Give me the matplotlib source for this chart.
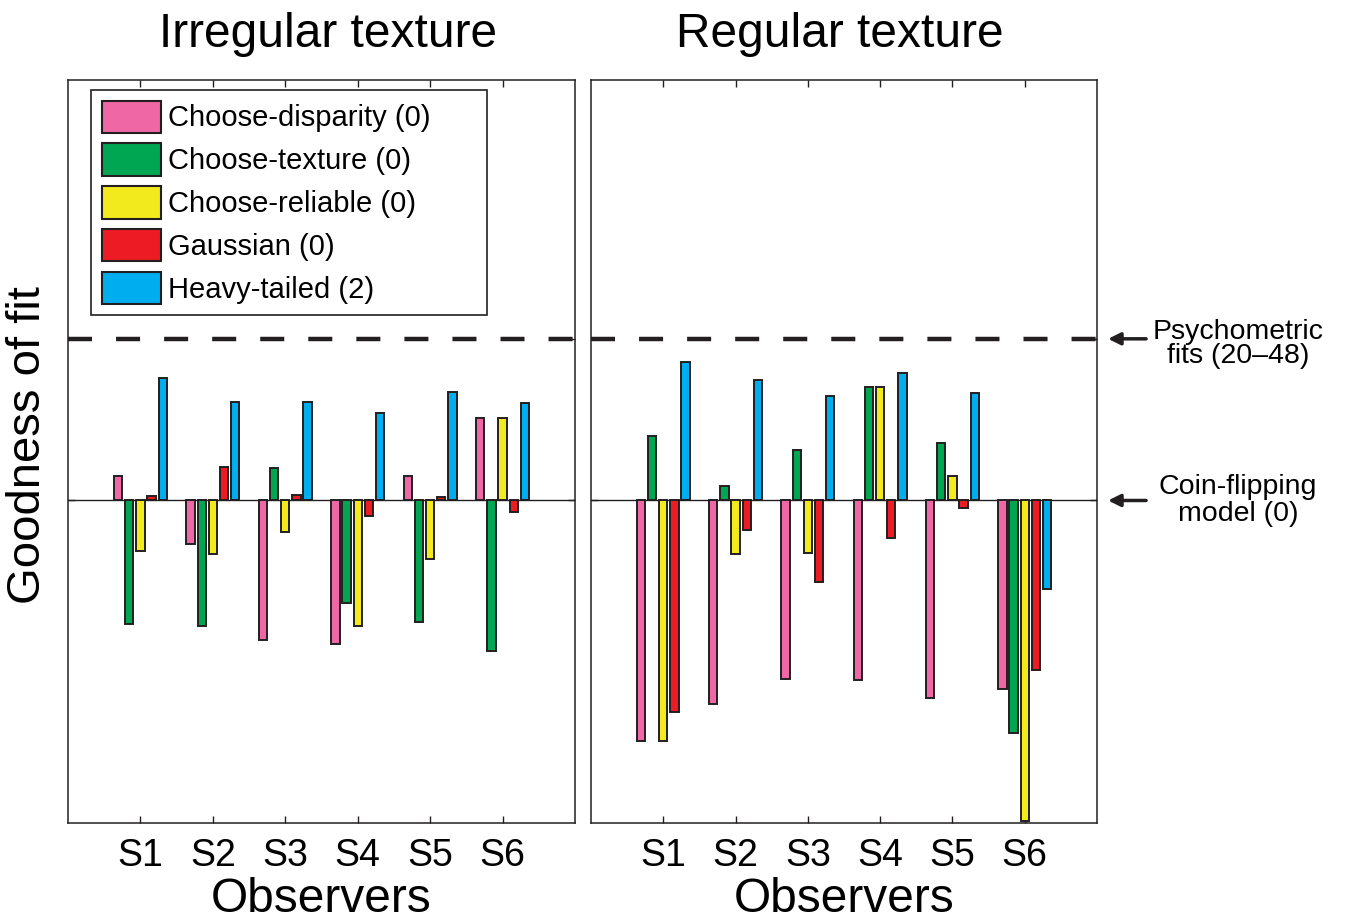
import numpy as np
import matplotlib
matplotlib.use('Agg')
import matplotlib.pyplot as plt
from matplotlib.patches import Patch

plt.rcParams['font.family'] = ['Liberation Sans', 'DejaVu Sans']
plt.rcParams['lines.scale_dashes'] = False

observers = ['S1', 'S2', 'S3', 'S4', 'S5', 'S6']
models = ['Choose-disparity (0)', 'Choose-texture (0)', 'Choose-reliable (0)',
          'Gaussian (0)', 'Heavy-tailed (2)']
colors = ['#f067a6', '#00a651', '#f2ea1d', '#ed1c24', '#00aeef']
panel_titles = ['Irregular texture', 'Regular texture']

# goodness of fit, scaled so coin-flipping = 0 and psychometric fits = 1
irregular_disparity = [0.152, -0.268, -0.860, -0.885, 0.152, 0.513]
irregular_texture = [-0.767, -0.778, 0.198, -0.634, -0.751, -0.934]
irregular_reliable = [-0.314, -0.330, -0.198, -0.778, -0.359, 0.513]
irregular_gaussian = [0.029, 0.210, 0.033, -0.095, 0.020, -0.070]
irregular_heavy = [0.759, 0.608, 0.608, 0.542, 0.668, 0.606]

regular_disparity = [-1.488, -1.258, -1.106, -1.108, -1.221, -1.166]
regular_texture = [0.398, 0.090, 0.311, 0.701, 0.353, -1.440]
regular_reliable = [-1.488, -0.334, -0.324, 0.701, 0.152, -1.985]
regular_gaussian = [-1.310, -0.180, -0.506, -0.233, -0.046, -1.046]
regular_heavy = [0.854, 0.743, 0.645, 0.786, 0.662, -0.549]

irregular = [irregular_disparity, irregular_texture, irregular_reliable,
             irregular_gaussian, irregular_heavy]
regular = [regular_disparity, regular_texture, regular_reliable,
           regular_gaussian, regular_heavy]

dark = '#231f20'

fig = plt.figure(figsize=(13.47, 9.23), dpi=100)
ax1 = fig.add_axes([68 / 1347, 1 - 823 / 923, 507 / 1347, 743 / 923])
ax2 = fig.add_axes([591 / 1347, 1 - 823 / 923, 506 / 1347, 743 / 923])

x = np.arange(1, len(observers) + 1)
step = 0.1538
width = 0.115

for ax, data, title, tx in zip([ax1, ax2], [irregular, regular], panel_titles, [0.513, 0.492]):
    ax.axhline(0, color=dark, lw=1.0, zorder=1)
    ax.axhline(1, color=dark, lw=3.2, ls=(0, (17.3, 17.3)), zorder=1)
    for i, vals in enumerate(data):
        ax.bar(x + (i - 2) * step, vals, width, color=colors[i],
               edgecolor=dark, linewidth=1.4, zorder=2)
    ax.set_xlim(0, 7)
    ax.set_ylim(-1.995, 2.601)
    ax.set_xticks(x)
    ax.set_xticklabels(observers, fontsize=27)
    ax.set_yticks([0, 1])
    ax.set_yticklabels([])
    ax.tick_params(direction='in', length=5, width=1.0, color=dark,
                   top=True, right=True, pad=11)
    for s in ax.spines.values():
        s.set_linewidth(1.1)
        s.set_color(dark)
    ax.set_xlabel('Observers', fontsize=34.5, labelpad=2)
    ax.set_title(title, fontsize=34.5, pad=24, x=tx)

fig.text(28 / 1347, 1 - 445 / 923, 'Goodness of fit', rotation=90,
         fontsize=34, ha='center', va='center')

handles = [Patch(facecolor=c, edgecolor=dark, linewidth=1.5) for c in colors]
leg = ax1.legend(handles, models, loc='upper left',
                 bbox_to_anchor=(0.0454, 0.5, 0.781, 0.4865), mode='expand',
                 fontsize=21, handlelength=2.05, handleheight=1.33,
                 handletextpad=0.22, labelspacing=0.36, borderpad=0.36,
                 borderaxespad=0, fancybox=False, framealpha=1)
leg.get_frame().set_edgecolor(dark)
leg.get_frame().set_linewidth(1.2)

trans = ax2.get_yaxis_transform()
notes = [(1, 'Psychometric\nfits (20\u201348)', 0.03, 0.9),
         (0, 'Coin-flipping\nmodel (0)', 0.0, 1.05)]
for yv, label, dy, ls in notes:
    ax2.annotate('', xy=(1.022, yv), xytext=(1.097, yv), xycoords=trans,
                 textcoords=trans, annotation_clip=False,
                 arrowprops=dict(arrowstyle='-|>', lw=2.5, color=dark,
                                 mutation_scale=18, shrinkA=0, shrinkB=0))
    ax2.text(1.279, yv - dy, label, transform=trans, ha='center', va='center',
             fontsize=20.5, linespacing=ls)

fig.savefig('out.png', dpi=100)
